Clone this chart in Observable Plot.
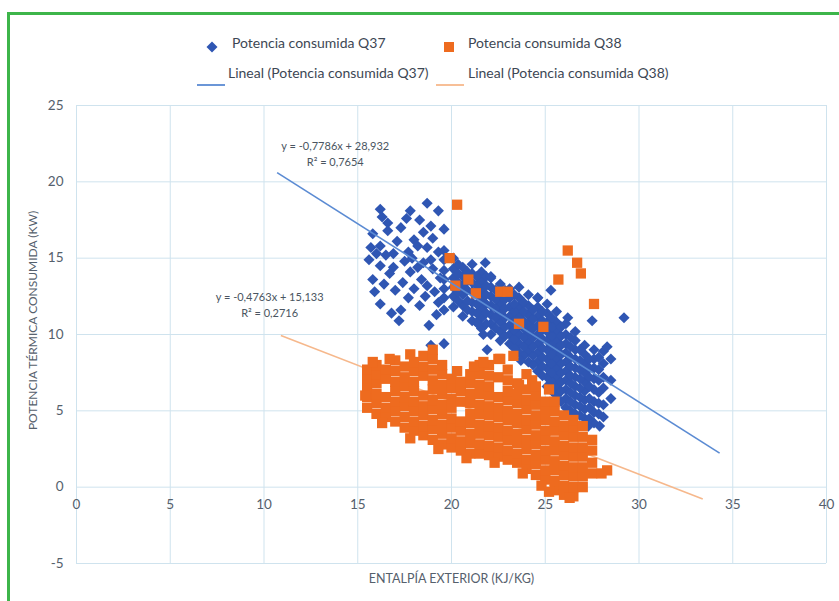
<!DOCTYPE html>
<html><head><meta charset="utf-8">
<script src="https://cdn.jsdelivr.net/npm/d3@7"></script>
<script src="https://cdn.jsdelivr.net/npm/@observablehq/plot@0.6"></script>
<style>
body{margin:0;background:#fff;width:839px;height:601px;overflow:hidden;position:relative;font-family:Lato,"Open Sans",sans-serif;}
#frame{position:absolute;left:7px;top:12px;width:840px;height:600px;border-top:3px solid #3db54a;border-left:3px solid #3db54a;box-sizing:border-box;}
#chart{position:absolute;left:0;top:0;}
.lgt{position:absolute;font-size:14px;color:#3d4754;white-space:nowrap;transform:translateY(-50%);line-height:1;}
.lgi{position:absolute;transform:translateY(-50%);}
</style></head><body>
<div id="frame"></div>
<div id="chart"></div>
<div id="legend"></div>
<script>
const xTicks = [0, 5, 10, 15, 20, 25, 30, 35, 40];
const yTicks = [-5, 0, 5, 10, 15, 20, 25];
const seriesNames = ["Potencia consumida Q37", "Potencia consumida Q38"];
const trendNames = ["Lineal (Potencia consumida Q37)", "Lineal (Potencia consumida Q38)"];
const xTitle = "ENTALPÍA EXTERIOR (KJ/KG)";
const yTitle = "POTENCIA TÉRMICA CONSUMIDA (KW)";

// Potencia consumida Q37 [entalpía, potencia]
const q37 = [
[16.2,18.2],[16.3,17.7],[16.6,17.3],[17.8,18.1],[18.7,18.6],[19.3,18.1],[18.3,17.5],[17.3,17.0],[16.6,16.8],[15.8,16.6],
[18.5,16.7],[19.0,16.3],[19.6,16.9],[15.7,15.7],[16.2,15.8],[16.9,15.3],[17.7,15.4],[18.2,15.8],[18.7,15.7],[19.3,15.4],
[16.2,14.5],[16.9,14.4],[17.8,14.1],[18.5,14.7],[19.0,14.3],[15.9,12.8],[17.4,13.4],[18.0,13.0],[18.7,13.2],[19.4,13.7],
[16.2,12.0],[17.3,11.6],[18.3,11.9],[19.3,12.1],[15.6,14.9],[16.5,15.2],[17.1,16.1],[17.5,14.8],[18.0,16.2],[16.4,13.3],
[17.0,12.9],[15.8,13.6],[17.6,17.6],[18.9,17.1],[18.2,14.4],[19.2,11.3],[18.8,10.6],[17.2,10.9],[16.8,11.4],
[18.6,12.5],[18.9,14.9],[17.9,15.0],[18.4,13.6],[19.1,12.8],[17.7,12.4],[16.7,14.0],[16.0,15.3],
[19.6,11.6],[19.6,12.4],[19.6,13.0],[19.6,13.6],[19.6,14.2],[19.6,14.9],[19.6,15.5],
[20.1,11.8],[20.1,12.5],[20.1,13.1],[20.1,13.7],[20.1,14.3],[20.1,15.0],
[20.6,11.2],[20.6,11.9],[20.6,12.6],[20.6,13.2],[20.6,13.8],[20.6,14.4],
[21.1,10.9],[21.1,11.5],[21.1,12.1],[21.1,12.8],[21.1,13.4],[21.1,14.0],[21.1,14.6],
[21.6,10.4],[21.6,11.1],[21.6,11.7],[21.6,12.3],[21.6,12.9],[21.6,13.5],[21.6,14.1],
[22.1,10.0],[22.1,10.7],[22.1,11.3],[22.1,11.9],[22.1,12.5],[22.1,13.1],[22.1,13.7],
[22.6,9.6],[22.6,10.2],[22.6,10.8],[22.6,11.4],[22.6,12.0],[22.6,12.6],[22.6,13.3],
[23.1,9.4],[23.1,10.0],[23.1,10.6],[23.1,11.2],[23.1,11.8],[23.1,12.4],[23.1,13.0],
[23.6,8.8],[23.6,9.4],[23.6,10.0],[23.6,10.6],[23.6,11.2],[23.6,11.8],[23.6,12.4],[23.6,13.1],
[24.1,8.2],[24.1,8.9],[24.1,9.5],[24.1,10.1],[24.1,10.7],[24.1,11.3],[24.1,11.9],[24.1,12.6],
[24.6,7.6],[24.6,8.2],[24.6,8.8],[24.6,9.4],[24.6,10.0],[24.6,10.6],[24.6,11.2],[24.6,11.8],[24.6,12.4],
[25.1,6.6],[25.1,7.2],[25.1,7.8],[25.1,8.4],[25.1,9.0],[25.1,9.6],[25.1,10.2],[25.1,10.8],[25.1,11.4],[25.1,12.0],
[25.6,6.0],[25.6,6.6],[25.6,7.2],[25.6,7.8],[25.6,8.4],[25.6,9.0],[25.6,9.6],[25.6,10.2],[25.6,10.8],[25.6,11.5],
[26.1,5.2],[26.1,5.8],[26.1,6.4],[26.1,7.0],[26.1,7.6],[26.1,8.2],[26.1,8.8],[26.1,9.4],[26.1,10.0],[26.1,10.7],
[26.6,4.8],[26.6,5.4],[26.6,6.0],[26.6,6.6],[26.6,7.2],[26.6,7.8],[26.6,8.4],[26.6,9.0],[26.6,9.6],[26.6,10.2],
[27.1,4.5],[27.1,5.1],[27.1,5.7],[27.1,6.3],[27.1,6.9],[27.1,7.5],[27.1,8.1],[27.1,8.7],[27.1,9.3],
[27.6,4.2],[27.6,4.9],[27.6,5.6],[27.6,6.4],[27.6,7.1],[27.6,7.8],[27.6,8.4],[27.6,9.0],
[28.1,4.6],[28.1,5.4],[28.1,6.5],[28.1,7.2],[28.1,8.1],[28.1,8.9],
[28.5,5.8],[28.5,7.0],[28.5,8.4],
[20.35,12.2],[20.35,12.8],[20.35,13.4],[20.35,14.0],[20.35,14.6],
[20.85,11.6],[20.85,12.2],[20.85,12.9],[20.85,13.5],[20.85,14.1],
[21.35,10.8],[21.35,11.4],[21.35,12.0],[21.35,12.6],[21.35,13.2],[21.35,13.8],
[21.85,10.7],[21.85,11.4],[21.85,12.0],[21.85,12.6],[21.85,13.2],[21.85,13.8],
[22.35,10.4],[22.35,11.1],[22.35,11.7],[22.35,12.3],[22.35,12.9],
[22.85,9.9],[22.85,10.5],[22.85,11.1],[22.85,11.7],[22.85,12.3],[22.85,12.9],
[23.35,9.1],[23.35,9.7],[23.35,10.3],[23.35,10.9],[23.35,11.5],[23.35,12.0],[23.35,12.6],
[23.85,8.6],[23.85,9.2],[23.85,9.8],[23.85,10.4],[23.85,10.9],[23.85,11.5],[23.85,12.1],
[24.35,8.0],[24.35,8.6],[24.35,9.2],[24.35,9.8],[24.35,10.4],[24.35,11.0],[24.35,11.6],
[24.85,7.3],[24.85,7.9],[24.85,8.5],[24.85,9.1],[24.85,9.7],[24.85,10.3],[24.85,10.9],[24.85,11.5],
[25.35,6.3],[25.35,6.9],[25.35,7.5],[25.35,8.1],[25.35,8.7],[25.35,9.3],[25.35,9.9],[25.35,10.5],[25.35,11.1],
[25.85,5.6],[25.85,6.3],[25.85,6.9],[25.85,7.5],[25.85,8.1],[25.85,8.7],[25.85,9.3],[25.85,9.9],[25.85,10.5],
[26.35,5.0],[26.35,5.6],[26.35,6.2],[26.35,6.8],[26.35,7.3],[26.35,7.9],[26.35,8.5],[26.35,9.2],[26.35,9.8],
[26.85,4.7],[26.85,5.3],[26.85,5.9],[26.85,6.5],[26.85,7.1],[26.85,7.7],[26.85,8.3],[26.85,9.0],
[27.35,4.5],[27.35,5.2],[27.35,5.8],[27.35,6.6],[27.35,7.2],[27.35,7.8],[27.35,8.4],
[27.85,4.8],[27.85,5.5],[27.85,6.2],[27.85,7.0],[27.85,7.7],[27.85,8.5],
[29.2,11.1],[27.5,10.9],[28.3,9.2],[26.2,11.1],[23.7,8.3],[21.9,9.0],[21.7,10.0],[21.4,10.7],[19.6,9.4],[18.9,9.3],
[25.3,12.9],[24.6,12.4],[22.1,13.8],[21.8,14.7],[27.9,4.0],[27.3,4.0]
];

// Potencia consumida Q38 [entalpía, potencia]
const q38 = [
[15.5,5.2],[15.5,5.9],[15.5,6.5],[15.5,7.1],[15.5,7.7],
[16.0,4.8],[16.0,5.5],[16.0,6.1],[16.0,6.8],[16.0,7.4],[16.0,8.0],
[16.5,4.6],[16.5,5.2],[16.5,5.9],[16.5,7.1],[16.5,7.7],
[17.0,4.3],[17.0,5.0],[17.0,5.6],[17.0,6.3],[17.0,6.9],[17.0,7.6],[17.0,8.3],
[17.5,3.9],[17.5,4.6],[17.5,5.3],[17.5,5.9],[17.5,6.6],[17.5,7.2],[17.5,7.9],
[18.0,3.7],[18.0,4.3],[18.0,5.0],[18.0,5.6],[18.0,6.3],[18.0,6.9],[18.0,7.6],[18.0,8.2],
[18.5,3.4],[18.5,4.0],[18.5,4.7],[18.5,5.3],[18.5,6.0],[18.5,7.3],[18.5,7.9],[18.5,8.6],
[19.0,3.1],[19.0,3.8],[19.0,4.4],[19.0,5.1],[19.0,5.7],[19.0,6.4],[19.0,7.0],[19.0,7.7],[19.0,8.4],[19.0,9.0],
[19.5,2.8],[19.5,3.5],[19.5,4.1],[19.5,4.8],[19.5,5.4],[19.5,6.1],[19.5,6.7],[19.5,7.4],[19.5,8.0],
[20.0,2.6],[20.0,3.2],[20.0,3.9],[20.0,4.5],[20.0,5.2],[20.0,5.8],[20.0,6.5],[20.0,7.1],
[20.5,2.4],[20.5,3.0],[20.5,3.7],[20.5,4.3],[20.5,5.6],[20.5,6.3],[20.5,6.9],
[21.0,2.2],[21.0,2.9],[21.0,3.5],[21.0,4.2],[21.0,4.8],[21.0,5.5],[21.0,6.1],[21.0,6.8],[21.0,7.4],
[21.5,2.2],[21.5,2.8],[21.5,3.5],[21.5,4.1],[21.5,4.8],[21.5,5.4],[21.5,6.1],[21.5,6.7],[21.5,7.4],[21.5,8.0],
[22.0,2.1],[22.0,2.7],[22.0,3.4],[22.0,4.0],[22.0,4.7],[22.0,5.3],[22.0,6.0],[22.0,6.6],[22.0,7.3],
[22.5,2.0],[22.5,2.6],[22.5,3.3],[22.5,3.9],[22.5,4.6],[22.5,5.2],[22.5,5.9],[22.5,7.2],[22.5,8.4],
[23.0,1.8],[23.0,2.4],[23.0,3.1],[23.0,3.7],[23.0,4.4],[23.0,5.0],[23.0,5.7],[23.0,6.3],[23.0,7.0],[23.0,7.7],
[23.5,1.6],[23.5,2.2],[23.5,2.9],[23.5,3.5],[23.5,4.2],[23.5,4.8],[23.5,5.5],[23.5,6.1],[23.5,6.8],[23.3,8.6],
[24.0,1.2],[24.0,1.8],[24.0,2.5],[24.0,3.1],[24.0,3.8],[24.0,4.4],[24.0,5.1],[24.0,5.7],[24.0,6.4],[24.3,7.0],
[24.5,0.8],[24.5,1.5],[24.5,2.1],[24.5,2.8],[24.5,3.4],[24.5,4.1],[24.5,4.7],[24.5,5.4],[24.5,6.0],[24.5,6.6],
[25.0,0.5],[25.0,1.1],[25.0,1.8],[25.0,2.4],[25.0,3.1],[25.0,3.7],[25.0,4.4],[25.0,5.0],[25.0,5.6],[25.2,6.4],
[25.5,-0.2],[25.5,0.4],[25.5,1.1],[25.5,1.7],[25.5,2.4],[25.5,3.0],[25.5,3.7],[25.5,4.3],[25.5,5.0],[25.5,5.6],
[26.0,-0.5],[26.0,0.1],[26.0,0.8],[26.0,1.4],[26.0,2.1],[26.0,2.7],[26.0,3.4],[26.0,4.0],[26.0,4.7],
[26.5,-0.6],[26.5,0.0],[26.5,0.7],[26.5,1.3],[26.5,2.0],[26.5,2.6],[26.5,3.3],[26.5,3.9],[26.5,4.4],
[27.0,0.0],[27.0,0.7],[27.0,1.3],[27.0,2.0],[27.0,2.6],[27.0,3.3],[27.0,4.0],
[27.5,0.9],[27.5,1.6],[27.5,2.4],[27.5,3.1],
[28.0,0.9],[28.3,1.1],
[15.8,8.2],[16.7,8.4],[17.8,8.7],[20.3,7.6],[21.2,7.9],[22.0,8.0],[24.0,7.4],[15.4,6.0],
[16.3,4.2],[17.8,3.2],[19.3,2.5],[20.8,1.9],[22.3,1.6],[23.8,0.9],[24.8,0.1],[26.3,-0.7],[25.2,-0.3],
[20.3,18.5],[19.9,15.0],[20.2,13.2],[20.9,13.6],[21.3,12.7],[22.6,12.8],[23.0,12.8],[26.2,15.5],[26.7,14.7],[26.9,14.0],
[25.7,13.6],[27.6,12.0],[23.6,10.7],[24.9,10.5],[23.6,6.7],[22.6,8.4],[21.7,8.2]
];

// Líneas de tendencia (ecuaciones mostradas en el gráfico)
const trends = [
  {name: trendNames[0], slope: -0.7786, intercept: 28.932, xStart: 10.7, xEnd: 34.3},
  {name: trendNames[1], slope: -0.4763, intercept: 15.133, xStart: 10.9, xEnd: 33.4}
];
const eqLabels = [
  {x: 13.8, y: 21.9, text: "y = -0,7786x + 28,932\nR² = 0,7654"},
  {x: 10.3, y: 12.0, text: "y = -0,4763x + 15,133\nR² = 0,2716"}
];

const blue = "#2f56b3", orange = "#ee6b1f";
const trendColors = ["#5b8bd3", "#f6b88c"];
const textColor = "#55606c";
const trendLink = (data, color) => Plot.link(data, {
  x1: d => d.xStart, x2: d => d.xEnd,
  y1: d => d.slope * d.xStart + d.intercept, y2: d => d.slope * d.xEnd + d.intercept,
  stroke: color, strokeWidth: 1.6
});

const chart = Plot.plot({
  width: 839, height: 601,
  marginLeft: 76, marginRight: 13, marginTop: 105, marginBottom: 38,
  x: {domain: [0, 40], axis: null},
  y: {domain: [-5, 25], axis: null},
  style: {fontFamily: "Lato, 'Open Sans', sans-serif", color: textColor, background: "transparent", overflow: "visible"},
  marks: [
    Plot.gridX(xTicks, {stroke: "#cfe3ee", strokeOpacity: 1}),
    Plot.gridY(yTicks, {stroke: "#cfe3ee", strokeOpacity: 1}),
    Plot.axisY(yTicks, {tickSize: 0, tickPadding: 13, tickFormat: d => String(d), label: null, fontSize: 13.5}),
    Plot.text(xTicks, {x: d => d, y: () => 0, dy: 18, text: d => String(d), fontSize: 13.5}),
    Plot.text([xTitle], {frameAnchor: "bottom", dy: 15, lineAnchor: "middle", textAnchor: "middle", fontSize: 12.5}),
    Plot.text([yTitle], {frameAnchor: "left", rotate: -90, dx: -43, dy: -14, textAnchor: "middle", lineAnchor: "middle", fontSize: 12}),
    Plot.dot(q37, {x: d => d[0], y: d => d[1], symbol: "diamond2", r: 5, fill: blue}),
    trendLink([trends[1]], trendColors[1]),
    Plot.dot(q38, {x: d => d[0], y: d => d[1], symbol: "square", r: 5.8, fill: orange}),
    trendLink([trends[0]], trendColors[0]),
    Plot.text(eqLabels, {x: "x", y: "y", text: "text", lineHeight: 1.45, fontSize: 11, fill: "#4a5561"})
  ]
});
document.getElementById("chart").appendChild(chart);

// Legend
const legend = document.getElementById("legend");
const items = [
  {label: seriesNames[0], kind: "diamond", color: blue, iconX: 212, textX: 232, y: 43},
  {label: seriesNames[1], kind: "square", color: orange, iconX: 449, textX: 468, y: 43},
  {label: trendNames[0], kind: "line", color: trendColors[0], iconX: 211, textX: 228, y: 73},
  {label: trendNames[1], kind: "line", color: trendColors[1], iconX: 450, textX: 468, y: 73}
];
for (const it of items) {
  const icon = document.createElement("div");
  icon.className = "lgi";
  let svg;
  if (it.kind === "diamond") svg = `<svg width="12" height="12"><path d="M6 0.5 L11.5 6 L6 11.5 L0.5 6Z" fill="${it.color}"/></svg>`;
  else if (it.kind === "square") svg = `<svg width="12" height="12"><rect x="1" y="1" width="10" height="10" fill="${it.color}"/></svg>`;
  else svg = `<svg width="28" height="4"><line x1="0" x2="28" y1="2" y2="2" stroke="${it.color}" stroke-width="1.8"/></svg>`;
  icon.innerHTML = svg;
  const w = it.kind === "line" ? 28 : 12;
  icon.style.left = (it.iconX - w / 2) + "px";
  icon.style.top = it.y + "px";
  icon.style.height = (it.kind === "line" ? 4 : 12) + "px";
  legend.appendChild(icon);
  const t = document.createElement("div");
  t.className = "lgt";
  t.textContent = it.label;
  t.style.left = it.textX + "px";
  t.style.top = it.y + "px";
  legend.appendChild(t);
}
</script></body></html>
